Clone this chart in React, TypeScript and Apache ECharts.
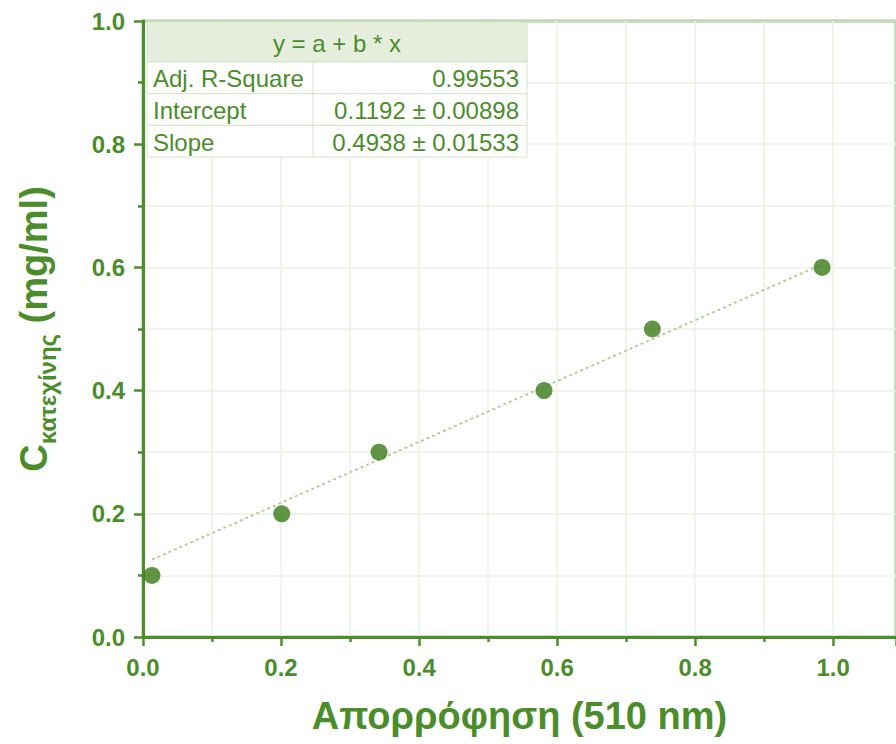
import React, { useEffect, useRef } from "react";
import * as echarts from "echarts";

const absorbance = [0.013, 0.201, 0.342, 0.581, 0.738, 0.984];
const concentration = [0.1, 0.2, 0.3, 0.4, 0.5, 0.6];
const fitLineX = [0.013, 0.984];
const fitLineY = [0.1256, 0.6051];
const tableHeader = "y = a + b * x";
const tableLabels = ["Adj. R-Square", "Intercept", "Slope"];
const tableValues = ["0.99553", "0.1192 ± 0.00898", "0.4938 ± 0.01533"];

const GREEN = "#4b8c2b";
const DARK = "#3a7a18";
const GRIDC = "#eaf2e4";

export default function App() {
  const ref = useRef<HTMLDivElement>(null);
  useEffect(() => {
    const chart = echarts.init(ref.current!, null, { renderer: "svg" });
    const font = "Arial, 'Liberation Sans', sans-serif";
    const tx = 147, ty = 22, tw = 380, hh = 40, rh = 31.7, colX = 313;
    const Z = 100;
    const tableChildren: any[] = [
      { type: "rect", z: Z, shape: { x: tx, y: ty, width: tw, height: hh }, style: { fill: "#e5eedd", stroke: "#d3e3c8", lineWidth: 1 } },
      { type: "text", z: Z + 1, style: { x: tx + tw / 2, y: ty + hh / 2 + 1, text: tableHeader, fill: GREEN, font: `24px ${font}`, align: "center", verticalAlign: "middle" } },
    ];
    tableLabels.forEach((lab, i) => {
      const y0 = ty + hh + i * rh;
      tableChildren.push({ type: "rect", z: Z, shape: { x: tx, y: y0, width: tw, height: rh }, style: { fill: "#ffffff", stroke: "#d3e3c8", lineWidth: 1 } });
      tableChildren.push({ type: "line", z: Z + 1, shape: { x1: colX, y1: y0, x2: colX, y2: y0 + rh }, style: { stroke: "#d3e3c8", lineWidth: 1 } });
      tableChildren.push({ type: "text", z: Z + 1, style: { x: tx + 6, y: y0 + rh / 2 + 1, text: lab, fill: GREEN, font: `24px ${font}`, align: "left", verticalAlign: "middle" } });
      tableChildren.push({ type: "text", z: Z + 1, style: { x: tx + tw - 8, y: y0 + rh / 2 + 1, text: tableValues[i], fill: GREEN, font: `24px ${font}`, align: "right", verticalAlign: "middle" } });
    });

    const axisCommon = {
      axisLine: { show: true, onZero: false, lineStyle: { color: GREEN, width: 3 } },
      axisTick: { show: true, inside: false, length: 9, lineStyle: { color: GREEN, width: 2.5 } },
      minorTick: { show: true, splitNumber: 2, length: 5, lineStyle: { color: GREEN, width: 2.5 } },
      splitLine: { show: true, lineStyle: { color: GRIDC, width: 1.5 } },
      minorSplitLine: { show: true, lineStyle: { color: GRIDC, width: 1.5 } },
    };

    chart.setOption({
      animation: false,
      backgroundColor: "#ffffff",
      textStyle: { fontFamily: font },
      grid: { left: 143, top: 21, width: 755, height: 616, show: true, borderColor: GREEN, borderWidth: 2.5, backgroundColor: "transparent" },
      xAxis: {
        type: "value",
        min: 0,
        max: 755 / 692,
        interval: 0.2,
        name: "Απορρόφηση (510 nm)",
        nameLocation: "middle",
        nameGap: 60,
        nameTextStyle: { color: GREEN, fontSize: 38, fontWeight: "bold", fontFamily: font },
        ...axisCommon,
        axisLabel: { color: GREEN, fontSize: 24, fontWeight: "bold", margin: 18, fontFamily: font, showMaxLabel: false, formatter: (v: number) => (v > 1.05 ? "" : v.toFixed(1)) },
      },
      yAxis: {
        type: "value",
        min: 0,
        max: 1.0,
        interval: 0.2,
        name: "{m|C}{s|κατεχίνης}{m| (mg/ml)}",
        nameLocation: "middle",
        nameRotate: 90,
        nameGap: 90,
        nameTextStyle: {
          color: GREEN,
          fontFamily: font,
          rich: {
            m: { fontSize: 38, fontWeight: "bold", color: GREEN, fontFamily: font, lineHeight: 46, verticalAlign: "bottom" },
            s: { fontSize: 24, fontWeight: "bold", color: GREEN, fontFamily: font, verticalAlign: "bottom", padding: [0, 0, -6, 0] },
          },
        },
        ...axisCommon,
        axisLabel: { color: GREEN, fontSize: 24, fontWeight: "bold", margin: 18, fontFamily: font, formatter: (v: number) => v.toFixed(1) },
      },
      series: [
        {
          type: "line",
          data: fitLineX.map((x, i) => [x, fitLineY[i]]),
          symbol: "none",
          lineStyle: { color: "#a9cc93", width: 1.8, type: [3, 3] },
          z: 2,
          silent: true,
        },
        {
          type: "scatter",
          data: absorbance.map((x, i) => [x, concentration[i]]),
          symbol: "circle",
          symbolSize: 17,
          itemStyle: { color: DARK },
          z: 3,
        },
      ],
      graphic: [{ type: "group", children: tableChildren, z: Z }],
    });
    return () => chart.dispose();
  }, []);
  return <div ref={ref} style={{ width: 896, height: 744, position: "absolute", left: 0, top: 0 }} />;
}
